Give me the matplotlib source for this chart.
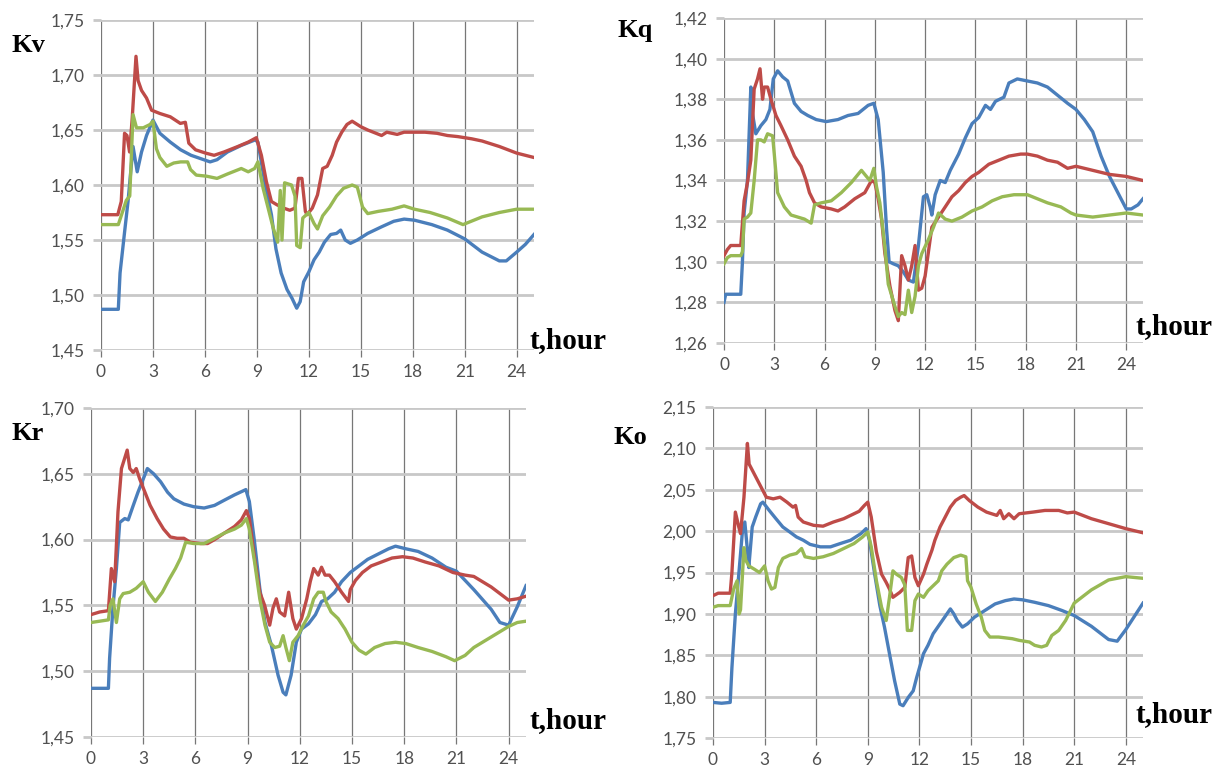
import matplotlib
matplotlib.use("Agg")
import matplotlib.pyplot as plt
from matplotlib.ticker import FuncFormatter
import numpy as np

# ---- data: (hour, value) pairs ----
kv_blue = [(0, 1.487), (1.0, 1.487), (1.1, 1.52), (1.36, 1.557), (1.56, 1.585), (1.85, 1.635), (2.09, 1.612),
           (2.34, 1.630), (2.63, 1.645), (3.0, 1.659), (3.4, 1.647), (4.0, 1.639), (4.6, 1.632), (5.2, 1.627),
           (5.75, 1.624), (6.3, 1.621), (6.7, 1.623), (7.3, 1.630), (8.1, 1.636), (8.9, 1.641), (9.06, 1.639),
           (9.45, 1.603), (9.84, 1.573), (10.1, 1.542), (10.4, 1.520), (10.74, 1.505), (11.03, 1.497),
           (11.3, 1.488), (11.5, 1.494), (11.7, 1.512), (12.0, 1.521), (12.3, 1.532), (12.6, 1.539),
           (12.9, 1.548), (13.26, 1.555), (13.6, 1.556), (13.84, 1.559), (14.1, 1.550), (14.4, 1.547),
           (14.8, 1.550), (15.4, 1.556), (16.2, 1.562), (16.9, 1.567), (17.5, 1.569), (18.1, 1.568),
           (19.1, 1.564), (20.0, 1.559), (21.0, 1.551), (22.0, 1.539), (23.0, 1.531), (23.4, 1.531),
           (24.0, 1.539), (24.5, 1.546), (25.0, 1.555)]
kv_red = [(0, 1.573), (0.97, 1.573), (1.17, 1.585), (1.36, 1.647), (1.5, 1.645), (1.65, 1.630), (1.8, 1.660),
          (2.02, 1.717), (2.14, 1.695), (2.34, 1.686), (2.63, 1.679), (2.92, 1.668), (3.4, 1.665), (4.0, 1.662),
          (4.58, 1.656), (4.87, 1.657), (5.07, 1.638), (5.46, 1.632), (6.04, 1.629), (6.53, 1.627), (7.1, 1.630),
          (7.9, 1.635), (8.5, 1.639), (8.97, 1.643), (9.26, 1.627), (9.55, 1.603), (9.84, 1.585), (10.16, 1.582),
          (10.55, 1.579), (10.9, 1.577), (11.2, 1.579), (11.4, 1.606), (11.6, 1.606), (11.8, 1.576),
          (11.9, 1.573), (12.2, 1.579), (12.5, 1.591), (12.8, 1.615), (13.06, 1.617), (13.35, 1.627),
          (13.6, 1.639), (13.9, 1.648), (14.2, 1.655), (14.5, 1.658), (15.0, 1.653), (15.4, 1.650),
          (16.2, 1.645), (16.5, 1.648), (17.1, 1.646), (17.5, 1.648), (18.0, 1.648), (18.7, 1.648),
          (19.4, 1.647), (20.0, 1.645), (20.6, 1.644), (21.4, 1.642), (22.0, 1.640), (23.0, 1.635),
          (24.0, 1.629), (25.0, 1.625)]
kv_green = [(0, 1.564), (1.0, 1.564), (1.46, 1.586), (1.66, 1.590), (1.85, 1.664), (2.05, 1.652), (2.44, 1.652),
            (2.83, 1.655), (3.0, 1.658), (3.2, 1.633), (3.4, 1.625), (3.8, 1.617), (4.2, 1.620), (4.6, 1.621),
            (5.0, 1.621), (5.17, 1.614), (5.5, 1.609), (6.1, 1.608), (6.7, 1.606), (7.3, 1.610), (8.1, 1.615),
            (8.5, 1.612), (8.87, 1.615), (9.06, 1.621), (9.36, 1.597), (9.65, 1.579), (9.94, 1.561),
            (10.2, 1.548), (10.35, 1.595), (10.45, 1.550), (10.6, 1.602), (11.0, 1.600), (11.2, 1.590),
            (11.3, 1.545), (11.5, 1.543), (11.65, 1.570), (12.0, 1.575), (12.3, 1.565), (12.5, 1.560),
            (12.8, 1.572), (13.2, 1.580), (13.6, 1.590), (14.0, 1.597), (14.5, 1.600), (14.8, 1.598),
            (15.1, 1.580), (15.4, 1.574), (16.0, 1.576), (16.8, 1.578), (17.5, 1.581), (18.1, 1.578),
            (19.0, 1.575), (20.0, 1.570), (20.9, 1.564), (22.0, 1.571), (23.0, 1.575), (24.0, 1.578),
            (25.0, 1.578)]

kq_blue = [(0, 1.280), (0.1, 1.284), (1.0, 1.284), (1.1, 1.300), (1.2, 1.324), (1.4, 1.340), (1.6, 1.386),
           (1.7, 1.373), (1.9, 1.363), (2.2, 1.367), (2.5, 1.370), (2.74, 1.375), (2.94, 1.390), (3.2, 1.394),
           (3.5, 1.391), (3.8, 1.389), (4.2, 1.378), (4.6, 1.374), (5.0, 1.372), (5.5, 1.370), (6.1, 1.369),
           (6.8, 1.370), (7.4, 1.372), (8.0, 1.373), (8.6, 1.377), (8.94, 1.378), (9.2, 1.370), (9.5, 1.344),
           (9.7, 1.316), (9.85, 1.300), (10.1, 1.299), (10.4, 1.298), (10.7, 1.295), (11.0, 1.291),
           (11.3, 1.290), (11.6, 1.308), (11.9, 1.332), (12.1, 1.333), (12.3, 1.327), (12.4, 1.323),
           (12.6, 1.333), (12.9, 1.340), (13.2, 1.339), (13.5, 1.345), (14.0, 1.353), (14.4, 1.361),
           (14.8, 1.368), (15.2, 1.371), (15.6, 1.377), (15.9, 1.375), (16.2, 1.379), (16.7, 1.381),
           (17.0, 1.388), (17.5, 1.390), (18.1, 1.389), (18.7, 1.388), (19.3, 1.386), (19.9, 1.382),
           (20.5, 1.378), (21.0, 1.375), (21.5, 1.370), (22.0, 1.364), (22.5, 1.352), (23.0, 1.342),
           (23.5, 1.334), (24.0, 1.326), (24.3, 1.326), (24.7, 1.328), (25.0, 1.331)]
kq_red = [(0, 1.303), (0.2, 1.306), (0.4, 1.308), (1.0, 1.308), (1.2, 1.330), (1.4, 1.339), (1.6, 1.350),
          (1.8, 1.385), (2.0, 1.390), (2.15, 1.395), (2.3, 1.380), (2.4, 1.386), (2.6, 1.386), (2.8, 1.380),
          (3.1, 1.372), (3.4, 1.367), (3.8, 1.360), (4.2, 1.352), (4.6, 1.347), (4.9, 1.340), (5.1, 1.334),
          (5.4, 1.329), (5.8, 1.327), (6.4, 1.326), (6.8, 1.325), (7.2, 1.327), (7.8, 1.331), (8.4, 1.334),
          (8.8, 1.340), (9.0, 1.339), (9.2, 1.331), (9.4, 1.321), (9.6, 1.304), (9.9, 1.288), (10.2, 1.276),
          (10.4, 1.271), (10.6, 1.303), (10.8, 1.298), (11.0, 1.291), (11.2, 1.298), (11.4, 1.308),
          (11.6, 1.286), (11.8, 1.287), (12.0, 1.293), (12.4, 1.317), (12.8, 1.322), (13.2, 1.327),
          (13.6, 1.332), (14.0, 1.335), (14.4, 1.339), (14.8, 1.342), (15.2, 1.344), (15.8, 1.348),
          (16.4, 1.350), (17.0, 1.352), (17.7, 1.353), (18.1, 1.353), (18.7, 1.352), (19.3, 1.350),
          (19.9, 1.349), (20.5, 1.346), (21.0, 1.347), (22.0, 1.345), (23.0, 1.343), (24.0, 1.342),
          (25.0, 1.340)]
kq_green = [(0, 1.299), (0.2, 1.302), (0.4, 1.303), (1.0, 1.303), (1.1, 1.305), (1.2, 1.321), (1.4, 1.322),
            (1.6, 1.324), (1.8, 1.340), (2.0, 1.360), (2.2, 1.360), (2.4, 1.359), (2.6, 1.363), (2.9, 1.362),
            (3.0, 1.353), (3.2, 1.334), (3.6, 1.327), (4.0, 1.323), (4.4, 1.322), (4.8, 1.321), (5.2, 1.319),
            (5.4, 1.328), (5.8, 1.329), (6.4, 1.330), (7.0, 1.334), (7.6, 1.339), (8.2, 1.345), (8.4, 1.343),
            (8.7, 1.340), (8.94, 1.346), (9.1, 1.337), (9.3, 1.329), (9.6, 1.307), (9.8, 1.289), (10.2, 1.278),
            (10.4, 1.273), (10.6, 1.275), (10.8, 1.274), (11.0, 1.286), (11.2, 1.275), (11.4, 1.283),
            (11.6, 1.298), (11.8, 1.304), (12.2, 1.311), (12.5, 1.317), (12.8, 1.324), (13.2, 1.321),
            (13.6, 1.320), (14.2, 1.322), (14.8, 1.325), (15.4, 1.327), (16.0, 1.330), (16.6, 1.332),
            (17.3, 1.333), (18.1, 1.333), (18.7, 1.331), (19.3, 1.329), (20.1, 1.327), (20.7, 1.324),
            (21.0, 1.323), (22.0, 1.322), (23.0, 1.323), (24.0, 1.324), (25.0, 1.323)]

kr_blue = [(0, 1.487), (1.0, 1.487), (1.07, 1.510), (1.26, 1.548), (1.46, 1.578), (1.65, 1.613), (1.94, 1.616),
           (2.14, 1.615), (2.43, 1.626), (2.7, 1.636), (3.0, 1.646), (3.24, 1.654), (3.6, 1.650), (4.0, 1.644),
           (4.4, 1.636), (4.76, 1.631), (5.34, 1.627), (5.9, 1.625), (6.5, 1.624), (7.1, 1.626), (7.67, 1.630),
           (8.25, 1.634), (8.9, 1.638), (9.1, 1.629), (9.4, 1.598), (9.7, 1.563), (10.0, 1.537), (10.36, 1.520),
           (10.75, 1.497), (11.04, 1.484), (11.2, 1.482), (11.5, 1.497), (11.8, 1.522), (12.1, 1.532),
           (12.5, 1.536), (12.9, 1.543), (13.25, 1.553), (13.6, 1.555), (14.0, 1.560), (14.4, 1.568),
           (14.9, 1.575), (15.4, 1.580), (15.9, 1.585), (16.5, 1.589), (17.1, 1.593), (17.5, 1.595),
           (18.1, 1.593), (18.8, 1.591), (19.6, 1.586), (20.4, 1.579), (21.0, 1.576), (22.0, 1.562),
           (23.0, 1.547), (23.5, 1.537), (24.0, 1.535), (24.5, 1.549), (25.0, 1.565)]
kr_red = [(0, 1.543), (0.5, 1.545), (1.0, 1.546), (1.17, 1.578), (1.36, 1.568), (1.55, 1.621), (1.75, 1.654),
          (1.94, 1.662), (2.08, 1.668), (2.23, 1.654), (2.43, 1.651), (2.6, 1.654), (2.8, 1.646), (3.1, 1.636),
          (3.4, 1.626), (3.8, 1.616), (4.17, 1.608), (4.56, 1.602), (4.95, 1.601), (5.34, 1.601), (5.7, 1.598),
          (6.3, 1.597), (6.7, 1.597), (7.1, 1.600), (7.67, 1.605), (8.25, 1.610), (8.64, 1.615), (8.93, 1.622),
          (9.1, 1.616), (9.4, 1.586), (9.7, 1.560), (9.98, 1.550), (10.27, 1.535), (10.46, 1.548),
          (10.65, 1.555), (10.84, 1.545), (11.13, 1.542), (11.36, 1.560), (11.6, 1.540), (11.8, 1.532),
          (12.1, 1.540), (12.4, 1.555), (12.6, 1.568), (12.8, 1.578), (13.06, 1.573), (13.25, 1.579),
          (13.45, 1.573), (13.7, 1.573), (14.0, 1.568), (14.4, 1.560), (14.8, 1.553), (14.9, 1.562),
          (15.2, 1.569), (15.6, 1.575), (16.1, 1.580), (16.7, 1.583), (17.3, 1.586), (17.9, 1.587),
          (18.5, 1.586), (19.2, 1.583), (20.0, 1.580), (20.8, 1.575), (21.5, 1.573), (22.0, 1.572),
          (23.0, 1.564), (23.5, 1.559), (24.0, 1.554), (24.5, 1.555), (25.0, 1.557)]
kr_green = [(0, 1.537), (1.0, 1.539), (1.1, 1.550), (1.26, 1.555), (1.46, 1.537), (1.65, 1.555), (1.85, 1.559),
            (2.23, 1.560), (2.6, 1.563), (3.0, 1.568), (3.3, 1.560), (3.7, 1.553), (4.1, 1.560), (4.5, 1.570),
            (4.85, 1.578), (5.15, 1.586), (5.44, 1.598), (5.9, 1.597), (6.5, 1.597), (7.1, 1.601), (7.67, 1.605),
            (8.25, 1.608), (8.64, 1.611), (8.93, 1.616), (9.1, 1.608), (9.4, 1.583), (9.7, 1.555), (10.0, 1.535),
            (10.27, 1.522), (10.56, 1.518), (10.84, 1.519), (11.04, 1.527), (11.2, 1.518), (11.4, 1.508),
            (11.6, 1.522), (11.9, 1.527), (12.2, 1.535), (12.5, 1.542), (12.8, 1.555), (13.06, 1.560),
            (13.35, 1.560), (13.5, 1.553), (13.8, 1.545), (14.2, 1.540), (14.6, 1.532), (15.0, 1.522),
            (15.4, 1.516), (15.8, 1.513), (16.3, 1.518), (16.9, 1.521), (17.5, 1.522), (18.1, 1.521),
            (18.8, 1.518), (19.6, 1.515), (20.4, 1.511), (20.9, 1.508), (21.5, 1.512), (22.0, 1.518),
            (23.0, 1.526), (24.0, 1.534), (24.5, 1.537), (25.0, 1.538)]

ko_blue = [(0, 1.793), (0.5, 1.792), (1.0, 1.793), (1.1, 1.835), (1.3, 1.900), (1.5, 1.948), (1.7, 1.997),
           (1.85, 2.011), (2.0, 1.977), (2.08, 1.956), (2.28, 2.005), (2.48, 2.017), (2.77, 2.033), (2.9, 2.035),
           (3.27, 2.025), (3.66, 2.015), (4.06, 2.005), (4.46, 1.999), (4.85, 1.993), (5.25, 1.989),
           (5.64, 1.984), (6.24, 1.981), (6.83, 1.981), (7.4, 1.985), (8.0, 1.989), (8.6, 1.997), (8.9, 2.003),
           (9.1, 1.989), (9.4, 1.948), (9.7, 1.910), (9.97, 1.884), (10.26, 1.852), (10.56, 1.819),
           (10.86, 1.791), (11.05, 1.789), (11.35, 1.799), (11.64, 1.807), (11.84, 1.823), (12.24, 1.852),
           (12.5, 1.862), (12.8, 1.876), (13.2, 1.888), (13.6, 1.900), (13.8, 1.906), (14.0, 1.900),
           (14.2, 1.892), (14.5, 1.884), (14.8, 1.888), (15.2, 1.896), (15.8, 1.904), (16.4, 1.912),
           (17.0, 1.916), (17.5, 1.918), (18.0, 1.917), (18.7, 1.914), (19.5, 1.910), (20.3, 1.904),
           (21.0, 1.898), (22.0, 1.885), (23.0, 1.869), (23.5, 1.867), (24.0, 1.881), (24.5, 1.897),
           (25.0, 1.913)]
ko_red = [(0, 1.922), (0.3, 1.925), (1.0, 1.925), (1.1, 1.950), (1.3, 2.023), (1.5, 2.005), (1.6, 1.997),
          (1.8, 2.041), (2.0, 2.106), (2.1, 2.081), (2.4, 2.069), (2.7, 2.057), (3.1, 2.041), (3.5, 2.039),
          (3.9, 2.041), (4.3, 2.035), (4.65, 2.029), (4.8, 2.031), (4.95, 2.017), (5.25, 2.011), (5.85, 2.007),
          (6.4, 2.006), (7.0, 2.011), (7.6, 2.015), (8.2, 2.021), (8.5, 2.024), (8.8, 2.031), (9.0, 2.035),
          (9.2, 2.017), (9.5, 1.975), (9.8, 1.948), (10.07, 1.938), (10.26, 1.930), (10.46, 1.920),
          (10.86, 1.926), (11.15, 1.932), (11.35, 1.968), (11.55, 1.970), (11.74, 1.944), (11.94, 1.934),
          (12.24, 1.948), (12.43, 1.960), (12.73, 1.977), (12.9, 1.989), (13.2, 2.005), (13.5, 2.017),
          (13.8, 2.029), (14.1, 2.037), (14.4, 2.041), (14.6, 2.043), (14.9, 2.037), (15.4, 2.029),
          (15.9, 2.023), (16.5, 2.019), (16.7, 2.025), (16.9, 2.015), (17.2, 2.021), (17.5, 2.015),
          (17.8, 2.021), (18.6, 2.023), (19.3, 2.025), (20.1, 2.025), (20.6, 2.022), (21.0, 2.023),
          (22.0, 2.015), (23.0, 2.009), (24.0, 2.003), (25.0, 1.998)]
ko_green = [(0, 1.908), (0.3, 1.910), (1.0, 1.910), (1.2, 1.930), (1.4, 1.940), (1.52, 1.900), (1.6, 1.905),
            (1.8, 1.980), (1.9, 1.965), (2.08, 1.958), (2.4, 1.954), (2.7, 1.950), (3.0, 1.958), (3.2, 1.940),
            (3.4, 1.930), (3.6, 1.932), (3.8, 1.956), (4.06, 1.967), (4.46, 1.971), (4.85, 1.973),
            (5.15, 1.979), (5.35, 1.969), (5.84, 1.967), (6.4, 1.969), (7.0, 1.973), (7.6, 1.979), (8.2, 1.985),
            (8.7, 1.993), (9.0, 1.999), (9.2, 1.981), (9.5, 1.940), (9.8, 1.908), (10.07, 1.892), (10.26, 1.920),
            (10.46, 1.952), (10.66, 1.948), (10.95, 1.944), (11.15, 1.935), (11.3, 1.880), (11.55, 1.880),
            (11.74, 1.916), (11.94, 1.924), (12.24, 1.920), (12.5, 1.928), (12.8, 1.934), (13.1, 1.940),
            (13.3, 1.952), (13.6, 1.960), (14.0, 1.968), (14.4, 1.971), (14.7, 1.969), (14.8, 1.940),
            (15.0, 1.932), (15.3, 1.912), (15.6, 1.896), (15.8, 1.880), (16.1, 1.872), (16.6, 1.872),
            (17.4, 1.870), (17.8, 1.868), (18.4, 1.866), (18.7, 1.862), (19.1, 1.860), (19.4, 1.862),
            (19.7, 1.874), (20.1, 1.880), (20.5, 1.892), (21.0, 1.913), (22.0, 1.929), (23.0, 1.941),
            (24.0, 1.945), (25.0, 1.943)]

x_ticks = [0, 3, 6, 9, 12, 15, 18, 21, 24]
kv_yticks = [1.45, 1.50, 1.55, 1.60, 1.65, 1.70, 1.75]
kq_yticks = [1.26, 1.28, 1.30, 1.32, 1.34, 1.36, 1.38, 1.40, 1.42]
kr_yticks = [1.45, 1.50, 1.55, 1.60, 1.65, 1.70]
ko_yticks = [1.75, 1.80, 1.85, 1.90, 1.95, 2.00, 2.05, 2.10, 2.15]

BLUE, RED, GREEN = "#4a7ebb", "#be4b48", "#98b954"
W, H = 1215, 773

fig = plt.figure(figsize=(W / 100, H / 100), dpi=100)

# panel: (series, yticks, label, axes box in pixels [left, top, right, bottom], label pos, t,hour pos)
panels = [
    ((kv_blue, kv_red, kv_green), kv_yticks, "Kv", (101, 20, 534, 350), (12, 46), (607, 341)),
    ((kq_blue, kq_red, kq_green), kq_yticks, "Kq", (724, 18, 1143, 343), (617, 31), (1212, 327)),
    ((kr_blue, kr_red, kr_green), kr_yticks, "Kr", (91, 408, 526, 737), (12, 433), (607, 721)),
    ((ko_blue, ko_red, ko_green), ko_yticks, "Ko", (713, 407, 1143, 738), (614, 437), (1212, 715)),
]

comma = FuncFormatter(lambda v, p: f"{v:.2f}".replace(".", ","))

for series, yt, lab, box, lpos, tpos in panels:
    l, t, r, b = box
    ax = fig.add_axes([l / W, 1 - b / H, (r - l) / W, (b - t) / H])
    for data, col in zip(series, (BLUE, RED, GREEN)):
        arr = np.array(data)
        ax.plot(arr[:, 0], arr[:, 1], color=col, lw=2.4, solid_joinstyle="round", zorder=3)
    ax.set_xlim(0, 25)
    ax.set_ylim(yt[0], yt[-1])
    ax.set_xticks(x_ticks)
    ax.set_yticks(yt)
    ax.yaxis.set_major_formatter(comma)
    ax.grid(axis="y", color="#c8c8c8", lw=2.0, zorder=0)
    ax.grid(axis="x", color="#777777", lw=0.9, zorder=1)
    ax.set_axisbelow(True)
    for s in ax.spines.values():
        s.set_visible(False)
    ax.tick_params(axis="y", length=6, width=2.0, color="#c8c8c8", pad=6,
                   labelsize=12.5, labelcolor="#505050")
    ax.tick_params(axis="x", length=5, width=0.9, color="#777777", pad=5,
                   labelsize=12.5, labelcolor="#505050")
    for lbl in ax.get_xticklabels() + ax.get_yticklabels():
        lbl.set_family("Lato")
    fig.text(lpos[0] / W, 1 - lpos[1] / H, lab, fontsize=19, fontweight="bold",
             family="Liberation Serif", va="center", ha="left")
    fig.text(tpos[0] / W, 1 - tpos[1] / H, "t,hour", fontsize=21, fontweight="bold",
             family="Liberation Serif", va="center", ha="right")

fig.savefig("out.png", dpi=100)
